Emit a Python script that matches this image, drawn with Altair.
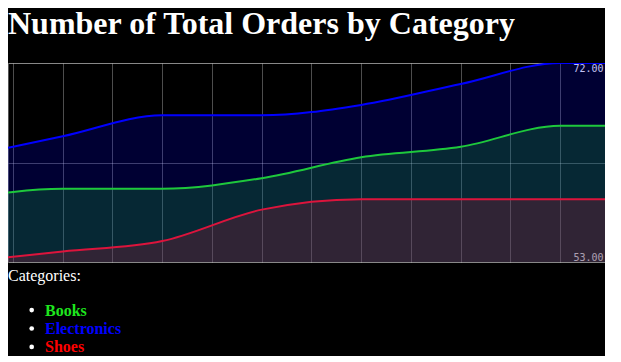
import altair as alt
import pandas as pd

# ---- data ----
TITLE = "Number of Total Orders by Category"
CATEGORIES = ["Electronics", "Books", "Shoes"]          # drawing order (back to front)
PERIODS = [-1, 1, 3, 5, 7, 9, 11, 13]                   # x positions of the data points
ELECTRONICS = [63, 65, 67, 67, 68, 70, 72, 72]
BOOKS = [59, 60, 60, 61, 63, 64, 66, 66]
SHOES = [53, 54, 55, 58, 59, 59, 59, 59]
LINE_COLORS = ["#0000ff", "#1ec83c", "#dc143c"]

LEGEND_TITLE = "Categories:"
LEGEND_ITEMS = ["Books", "Electronics", "Shoes"]
LEGEND_COLORS = ["#1ee61e", "#0000ff", "#ff0000"]

Y_MIN, Y_MAX = 53, 72
Y_TICKS = [53, 62.5, 72]
X_GRID = list(range(0, 12))
X_DOMAIN = [-0.1, 11.9]

series = {"Electronics": ELECTRONICS, "Books": BOOKS, "Shoes": SHOES}
rows = []
for cat in CATEGORIES:
    for p, v in zip(PERIODS, series[cat]):
        rows.append({"period": p, "orders": v, "category": cat})
df = pd.DataFrame(rows)

W, H = 597, 199

x_scale = alt.Scale(domain=X_DOMAIN, nice=False, zero=False)
x_axis = alt.Axis(values=X_GRID, labels=False, ticks=False, domain=False,
                  grid=True, title=None, minExtent=0)
y_scale = alt.Scale(domain=[Y_MIN, Y_MAX], nice=False, zero=False)
y_axis = alt.Axis(values=Y_TICKS, orient="right", grid=True, ticks=False,
                  domain=False, title=None, labelAlign="right", labelPadding=-2,
                  labelFlush=True, labelFont="DejaVu Sans Mono", labelFontSize=10,
                  labelColor="#f0f0f0", minExtent=0,
                  labelExpr="datum.value == 62.5 ? '' : format(datum.value, '.2f')")

x_enc = alt.X("period:Q", scale=x_scale, axis=x_axis)

layers = []
for cat, col in zip(CATEGORIES, LINE_COLORS):
    base = alt.Chart(df).transform_filter(alt.datum.category == cat)
    area = base.mark_area(interpolate="monotone", color=col, fillOpacity=0.2,
                          clip=True).encode(
        x=x_enc,
        y=alt.Y("orders:Q", scale=y_scale, stack=None, axis=y_axis),
        y2=alt.datum(Y_MIN),
    )
    layers.append(area)
for cat, col in zip(CATEGORIES, LINE_COLORS):
    base = alt.Chart(df).transform_filter(alt.datum.category == cat)
    line = base.mark_line(interpolate="monotone", color=col, strokeWidth=2,
                          clip=True).encode(
        x=x_enc,
        y=alt.Y("orders:Q", scale=y_scale, axis=y_axis),
    )
    layers.append(line)

# ---- HTML-like legend below the plot ----
legend_df = pd.DataFrame({"item": LEGEND_ITEMS, "color": LEGEND_COLORS})
LEG_Y0, LEG_STEP = 252.6, 18.4

layers.append(alt.Chart(alt.Data(values=[{"t": LEGEND_TITLE}])).mark_text(
    align="left", baseline="alphabetic", font="Liberation Serif", fontSize=16,
    color="white").encode(text="t:N", x=alt.value(0), y=alt.value(218)))
for i, item in enumerate(LEGEND_ITEMS):
    b = alt.Chart(legend_df).transform_filter(alt.datum.item == item)
    layers.append(b.mark_circle(size=22, color="white", opacity=1).encode(
        x=alt.value(23.7), y=alt.value(LEG_Y0 + LEG_STEP * i - 5.5)))
    layers.append(b.mark_text(
        align="left", baseline="alphabetic", font="Liberation Serif", fontSize=16,
        fontWeight="bold").encode(
        x=alt.value(37), y=alt.value(LEG_Y0 + LEG_STEP * i), text="item:N",
        color=alt.Color("color:N", scale=None)))

chart = alt.layer(*layers).properties(
    width=W, height=H,
    padding=0,
    background="black",
    title=alt.TitleParams(TITLE, anchor="start", font="Liberation Serif", fontSize=32,
                          fontWeight="bold", color="white", offset=22),
).configure_view(stroke="#555555", strokeWidth=1, fill="black").configure_axis(
    gridColor="white", gridOpacity=0.3, gridWidth=1)

chart.save("out.html", embed_options={"renderer": "svg", "actions": False})
